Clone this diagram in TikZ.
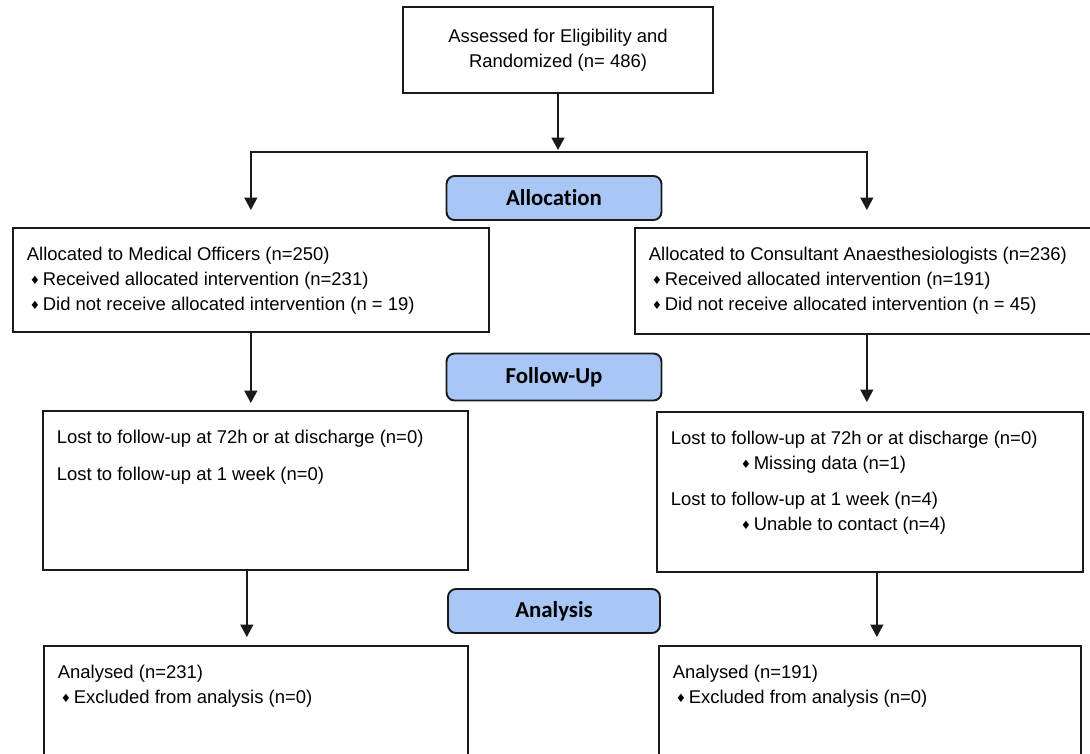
\documentclass[tikz,border=0pt]{standalone}
\usepackage{fontspec}
\setmainfont{Liberation Sans}
\newfontfamily\stagefont[Ligatures=NoCommon]{Carlito}
\newfontfamily\symfont{DejaVu Sans}
\definecolor{etapa}{HTML}{A8C6F6}
\definecolor{borde}{HTML}{1A1A1A}
\usetikzlibrary{arrows.meta}
\newcommand{\dmd}{\makebox[0.32cm][l]{\hspace{0.06cm}\raisebox{0.03cm}{\symfont\fontsize{6.5}{6.5}\selectfont ♦}}}

\begin{document}
\begin{tikzpicture}[x=0.02cm, y=-0.02cm,
  font=\fontsize{10.5}{14.2}\selectfont,
  box/.style={draw=borde, line width=1pt, inner xsep=0.28cm, inner ysep=0.39cm, anchor=north west},
  stage/.style={draw=borde, fill=etapa, line width=1.1pt, rounded corners=0.16cm,
    font=\stagefont\bfseries\fontsize{13}{15}\selectfont, minimum width=4.3cm, minimum height=0.88cm},
  arr/.style={draw=borde, line width=1pt, -{Triangle[length=0.25cm, width=0.26cm]}}]
\useasboundingbox (0,0) rectangle (1090,754);
\clip (0,0) rectangle (1090,754);

% enrolment
\node[box, anchor=center, align=center, minimum width=6.2cm, minimum height=1.72cm, inner sep=0pt] (enrol) at (558,50)
  {Assessed for Eligibility and\\Randomized (n= 486)};
\coordinate (split) at (558,152);

% allocation
\node[stage] (alloc) at (554,198) {Allocation};
\node[box] (medA) at (12,227) {\parbox[t][1.30cm][t]{8.96cm}{Allocated to Medical Officers (n=250)\\
  \dmd Received allocated intervention (n=231)\\
  \dmd Did not receive allocated intervention (n = 19)}};
\node[box] (conA) at (634,227) {\parbox[t][1.34cm][t]{8.72cm}{Allocated to Consultant Anaesthesiologists (n=236)\\
  \dmd Received allocated intervention (n=191)\\
  \dmd Did not receive allocated intervention (n = 45)}};

% follow-up
\node[stage, minimum height=0.94cm] (follow) at (554,377) {Follow-Up};
\node[box] (medF) at (42,410) {\parbox[t][2.40cm][t]{7.94cm}{Lost to follow-up at 72h or at discharge (n=0)\\[0.24cm]
  Lost to follow-up at 1 week (n=0)}};
\node[box] (conF) at (656,411) {\parbox[t][2.42cm][t]{7.96cm}{Lost to follow-up at 72h or at discharge (n=0)\\
  \hspace*{1.34cm}\dmd Missing data (n=1)\\[0.22cm]
  Lost to follow-up at 1 week (n=4)\\
  \hspace*{1.34cm}\dmd Unable to contact (n=4)}};

% analysis
\node[stage, minimum width=4.24cm] (analys) at (554,611) {Analysis};
\node[box] (medN) at (43,645) {\parbox[t][2.40cm][t]{7.92cm}{Analysed (n=231)\\
  \dmd Excluded from analysis (n=0)}};
\node[box] (conN) at (658,645) {\parbox[t][2.40cm][t]{7.88cm}{Analysed (n=191)\\
  \dmd Excluded from analysis (n=0)}};

% connectors
\draw[arr, shorten >=0.04cm] (enrol) -- (split);
\draw[arr, shorten >=0.34cm] (split) -| (medA.north);
\draw[arr, shorten >=0.34cm] (split) -| (conA.north);
\draw[arr, shorten >=0.14cm] (medA) -- (medA |- medF.north);
\draw[arr, shorten >=0.18cm] (conA) -- (conA |- conF.north);
\coordinate (medFout) at ([xshift=-0.17cm]medF.south);
\coordinate (conFout) at ([xshift=0.14cm]conF.south);
\draw[arr, shorten >=0.16cm] (medFout) -- (medFout |- medN.north);
\draw[arr, shorten >=0.16cm] (conFout) -- (conFout |- conN.north);
\end{tikzpicture}
\end{document}
